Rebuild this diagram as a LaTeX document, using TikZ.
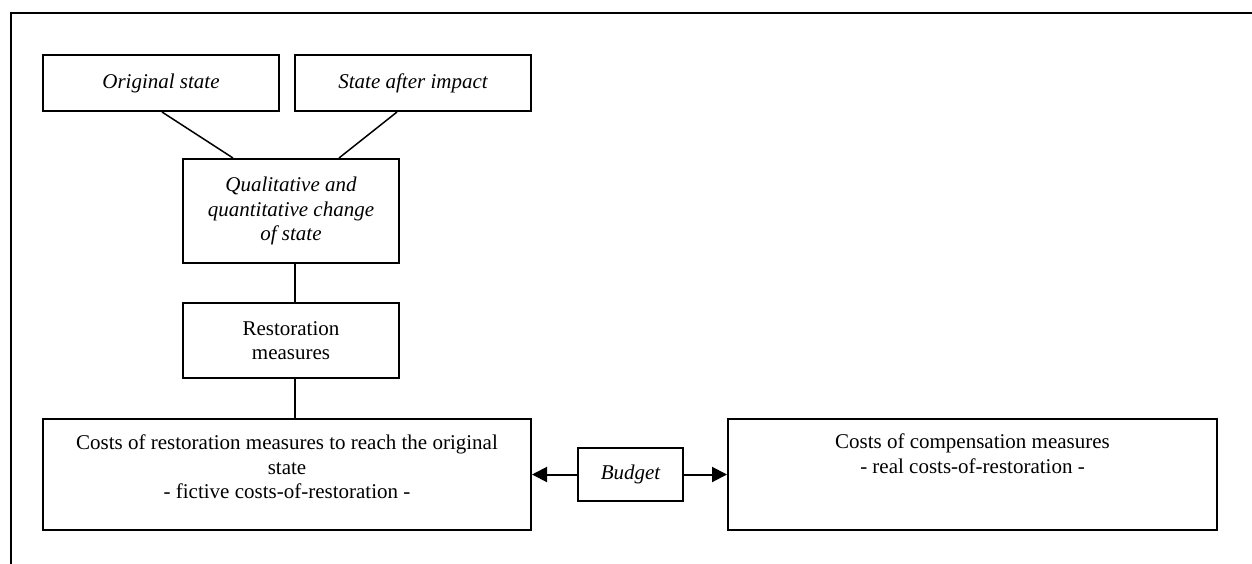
\documentclass[tikz,border=0pt]{standalone}
\usepackage{fontspec}
\setmainfont{Liberation Serif}
\usetikzlibrary{arrows.meta}
\begin{document}
\begin{tikzpicture}[x=1pt,y=-1pt,
  box/.style={draw, line width=2pt, inner sep=0pt, align=center, font=\fontsize{21}{24.5}\selectfont},
  txt/.style={inner sep=0pt, align=center, font=\fontsize{21}{24.5}\selectfont},
  it/.append style={font=\fontsize{21}{24.5}\selectfont\itshape},
  conn/.style={line width=1.5pt},
  arr/.style={line width=2pt, -{Triangle[length=15pt,width=15pt]}},
  frame/.style={line width=2.4pt}]
\useasboundingbox (0,0) rectangle (1252,564);
\draw[frame] (1252,13) -- (11,13) -- (11,564);
\node[box, it, minimum width=236pt, minimum height=56pt] (orig) at (161,83) {Original state};
\node[box, it, minimum width=236pt, minimum height=56pt] (after) at (413,83) {State after impact};
\node[box, it, minimum width=216pt, minimum height=104pt] (qual) at (291,211) {Qualitative and\\quantitative change\\of state};
\node[box, minimum width=216pt, minimum height=75pt] (rest) at (291,340.5) {Restoration\\measures};
\node[box, minimum width=488pt, minimum height=111pt] (costL) at (287,474.5) {};
\node[box, minimum width=489pt, minimum height=111pt] (costR) at (972.5,474.5) {};
\node[box, it, minimum width=105pt, minimum height=53pt] (budget) at (630.5,474.5) {Budget};
\node[txt, anchor=north] (costLt) at ([yshift=-17pt]costL.north) {Costs of restoration measures to reach the original\\state\\- fictive costs-of-restoration -};
\node[txt, anchor=north] (costRt) at ([yshift=-16pt]costR.north) {Costs of compensation measures\\- real costs-of-restoration -};
\draw[conn] ([xshift=120pt]orig.south west) -- ([xshift=51pt]qual.north west);
\draw[conn] ([xshift=103pt]after.south west) -- ([xshift=157pt]qual.north west);
\draw[conn] ([xshift=4pt]qual.south) -- ([xshift=4pt]rest.north);
\draw[conn] ([xshift=4pt]rest.south) -- ([xshift=8pt]costL.north);
\draw[arr] (budget) -- (costL);
\draw[arr] (budget) -- (costR);
\end{tikzpicture}
\end{document}
